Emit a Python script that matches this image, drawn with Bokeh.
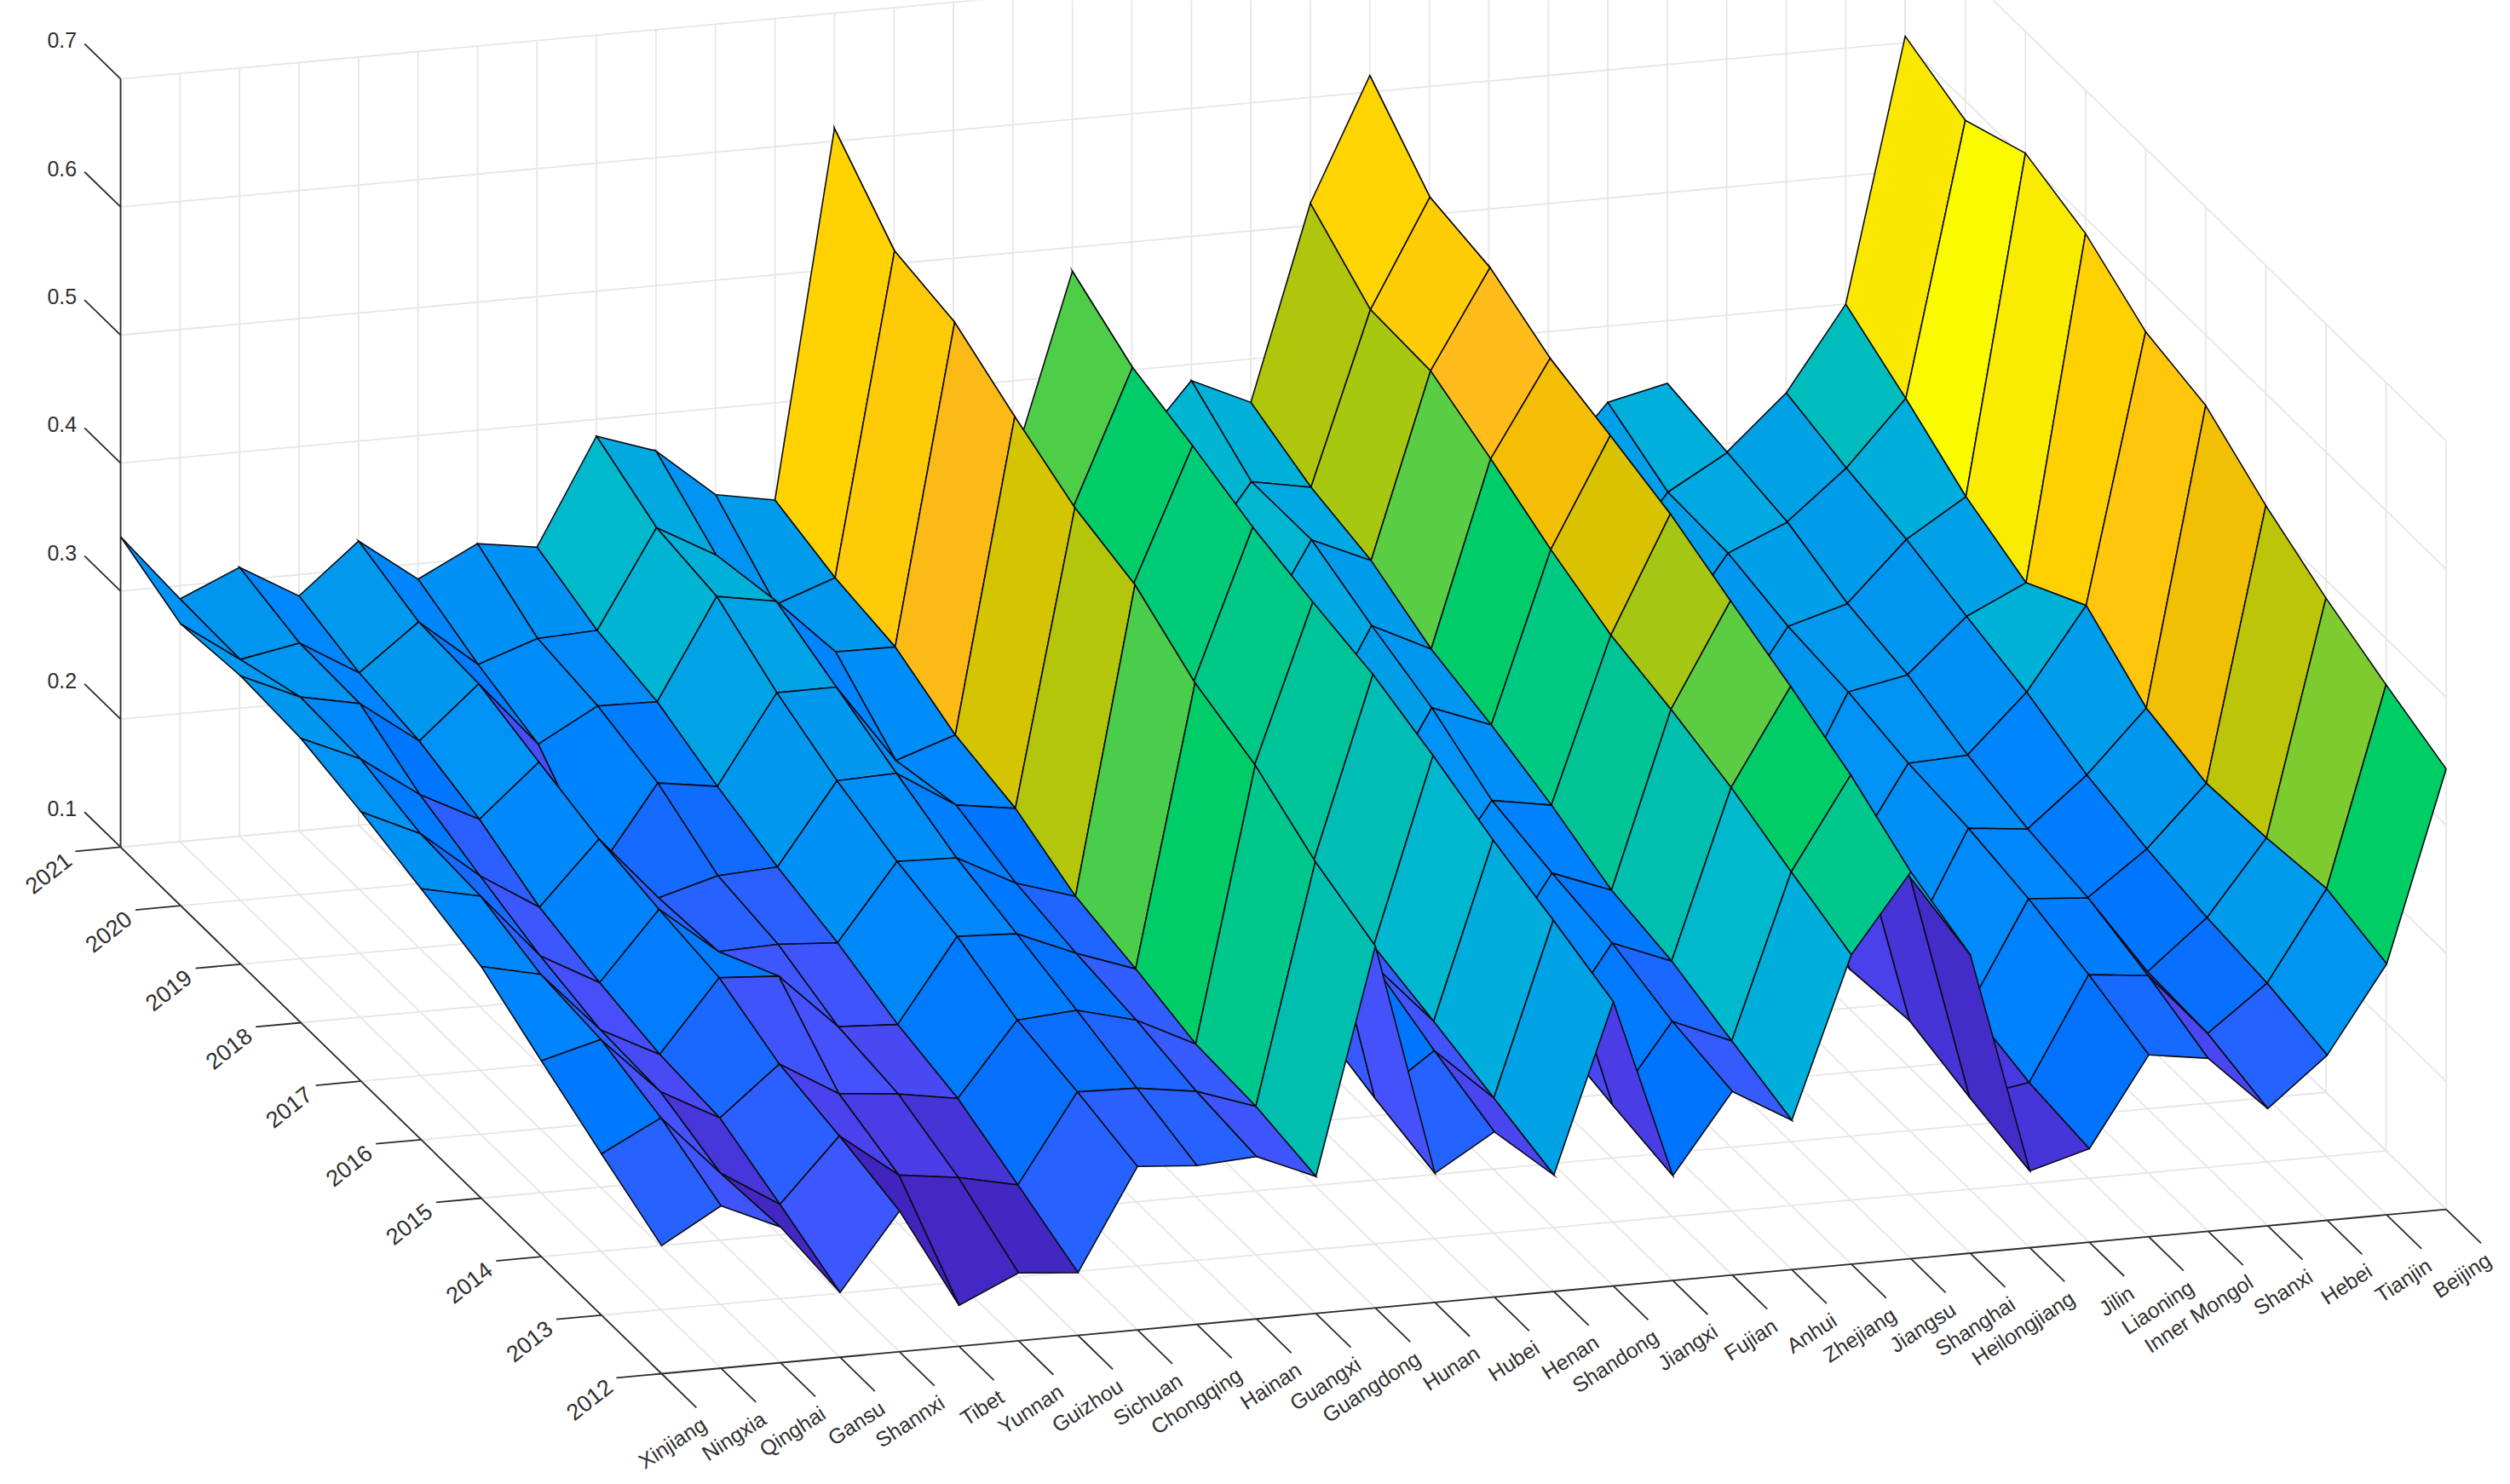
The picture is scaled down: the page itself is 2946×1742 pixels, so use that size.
from bokeh.plotting import figure
from bokeh.models import Range1d, ColumnDataSource
from bokeh.core.properties import value
from bokeh.embed import file_html
from bokeh.resources import INLINE
import numpy as np

provinces = ["Xinjiang","Ningxia","Qinghai","Gansu","Shannxi","Tibet","Yunnan","Guizhou","Sichuan","Chongqing",
             "Hainan","Guangxi","Guangdong","Hunan","Hubei","Henan","Shandong","Jiangxi","Fujian","Anhui",
             "Zhejiang","Jiangsu","Shanghai","Heilongjiang","Jilin","Liaoning","Inner Mongol","Shanxi","Hebei","Tianjin","Beijing"]
years = [2012,2013,2014,2015,2016,2017,2018,2019,2020,2021]
z_ticks = [0.1,0.2,0.3,0.4,0.5,0.6,0.7]

Xinjiang = [.200,.226,.253,.281,.296,.3104,.322,.325,.32,.3425]
Ningxia = [.2268,.2498,.2653,.2705,.2859,.289,.3018,.3044,.288,.2896]
Qinghai = [.206,.2024,.2203,.223,.235,.2518,.2695,.295,.2965,.310]
Gansu = [.1506,.1737,.1955,.1994,.2098,.223,.246,.2614,.269,.2834]
Shannxi = [.21,.2229,.2333,.255,.2628,.272,.2864,.3018,.3045,.322]
Tibet = [.132,.188,.206,.252,.2255,.2218,.198,.2504,.267,.288]
Yunnan = [.153,.1818,.2014,.2083,.2269,.2348,.2615,.276,.283,.3114]
Guizhou = [.149,.1718,.1936,.2057,.2238,.2373,.2546,.275,.285,.3044]
Sichuan = [.2276,.2402,.2505,.2702,.2831,.3004,.3235,.353,.361,.3868]
Chongqing = [.224,.2388,.2539,.268,.2816,.302,.3236,.345,.3354,.371]
Hainan = [.2268,.232,.2419,.2485,.2575,.273,.262,.3011,.2924,.3326]
Guangxi = [.207,.216,.219,.232,.243,.266,.2776,.3007,.309,.324]
Guangdong = [.3825,.4028,.4325,.451,.482,.4965,.522,.55,.56,.61]
Hunan = [.201,.214,.23,.24,.25,.265,.28,.295,.31,.33]
Hubei = [.229,.2467,.2675,.28,.29,.30,.315,.33,.345,.365]
Henan = [.191,.2054,.2196,.2326,.253,.28,.301,.332,.3466,.3347]
Shandong = [.322,.340,.3568,.3772,.3948,.4057,.4185,.4364,.4519,.4813]
Jiangxi = [.182,.1914,.2025,.2078,.223,.2368,.2508,.2776,.293,.3344]
Fujian = [.2434,.2524,.2679,.2769,.2879,.3146,.3331,.3544,.3541,.3874]
Anhui = [.2166,.2329,.2496,.2592,.28,.2969,.3105,.3339,.3455,.3661]
Zhejiang = [.3416,.3606,.3809,.3962,.4085,.4296,.4548,.4778,.4799,.5173]
Jiangsu = [.402,.432,.4555,.4767,.4988,.5144,.529,.5542,.5635,.6128]
Shanghai = [.333,.3478,.3585,.36,.37,.38,.39,.41,.43,.45]
Heilongjiang = [.16,.1717,.186,.1808,.19,.20,.21,.22,.235,.25]
Jilin = [.173,.179,.192,.195,.215,.209,.2366,.252,.2576,.289]
Liaoning = [.242,.259,.2726,.282,.287,.297,.3025,.314,.316,.3405]
InnerMongol = [.235,.254,.269,.277,.289,.306,.316,.334,.3426,.351]
Shanxi = [.1915,.2045,.207,.219,.227,.239,.256,.266,.284,.293]
Hebei = [.229,.2395,.245,.253,.265,.284,.2975,.312,.322,.335]
Tianjin = [.296,.309,.303,.300,.313,.3475,.3195,.341,.372,.40]
Beijing = [.444,.464,.486,.5126,.545,.557,.588,.605,.585,.605]

Z = np.array([Xinjiang,Ningxia,Qinghai,Gansu,Shannxi,Tibet,Yunnan,Guizhou,Sichuan,Chongqing,Hainan,Guangxi,Guangdong,
              Hunan,Hubei,Henan,Shandong,Jiangxi,Fujian,Anhui,Zhejiang,Jiangsu,Shanghai,Heilongjiang,Jilin,Liaoning,
              InnerMongol,Shanxi,Hebei,Tianjin,Beijing])
NI, NJ = Z.shape

# orthographic camera of the 3-D axes box
ORIGIN = (776.0, 1612.0); EX = (69.82, -6.43); EY = (-70.55, -68.67); ZK = 1503.0; Z0 = 0.1
def proj(i, j, z):
    return (ORIGIN[0] + EX[0]*i + EY[0]*j, 1742 - (ORIGIN[1] + EX[1]*i + EY[1]*j - (z - Z0)*ZK))

cm_z = [.13,.155,.172,.186,.20,.215,.23,.243,.26,.285,.31,.335,.36,.385,.405,.43,.444,.45,.46,.465,.48,.50,.515,.525,.545,.56,.585,.60]
cm_r = [65,67,70,75,70,55,35,0,0,0,0,0,0,0,0,0,0,70,110,130,175,220,245,255,255,255,250,250]
cm_g = [35,40,52,65,80,90,100,115,130,145,155,170,185,192,200,205,205,205,205,202,198,195,190,185,198,210,232,250]
cm_b = [190,195,215,235,250,255,255,255,255,245,235,225,205,170,135,105,100,75,60,45,12,0,5,30,12,0,0,0]
def cmap(v):
    return "#%02x%02x%02x" % tuple(int(round(np.interp(v, cm_z, c))) for c in (cm_r, cm_g, cm_b))

p = figure(width=2930, height=1726, x_range=Range1d(0, 2930), y_range=Range1d(16, 1742),
           toolbar_location=None, output_backend="svg", min_border=0, outline_line_color=None,
           x_axis_type=None, y_axis_type=None, background_fill_color="white", border_fill_color="white")
p.grid.visible = False

# wall and floor grid
gx, gy = [], []
def seg(a, b):
    gx.append([a[0], b[0]]); gy.append([a[1], b[1]])
zlo, zhi = z_ticks[0], z_ticks[-1]
for i in range(NI):
    seg(proj(i,0,zlo), proj(i,NJ-1,zlo)); seg(proj(i,NJ-1,zlo), proj(i,NJ-1,zhi))
for j in range(NJ):
    seg(proj(0,j,zlo), proj(NI-1,j,zlo)); seg(proj(NI-1,j,zlo), proj(NI-1,j,zhi))
for v in z_ticks:
    seg(proj(0,NJ-1,v), proj(NI-1,NJ-1,v)); seg(proj(NI-1,NJ-1,v), proj(NI-1,0,v))
p.multi_line(gx, gy, line_color="#e6e6e6", line_width=1.8)

# axes lines and ticks
ax, ay = [], []
def aseg(a, b):
    ax.append([a[0], b[0]]); ay.append([a[1], b[1]])
aseg(proj(0,0,zlo), proj(NI-1,0,zlo))
aseg(proj(0,0,zlo), proj(0,NJ-1,zlo))
aseg(proj(0,NJ-1,zlo), proj(0,NJ-1,zhi))
for i in range(NI):
    aseg(proj(i,0,zlo), proj(i,-0.58,zlo))
for j in range(NJ):
    aseg(proj(0,j,zlo), proj(-0.76,j,zlo))
for v in z_ticks:
    aseg(proj(0,NJ-1,v), proj(0,NJ-1+0.6,v))
p.multi_line(xs=ax, ys=ay, line_color="#2c2c2c", line_width=1.8)

# surface: flat faces painted from the far corner to the near one, each coloured by its first vertex
fx, fy, fc = [], [], []
for j in range(NJ-2, -1, -1):
    for i in range(NI-2, -1, -1):
        cs = [proj(i,j,Z[i,j]), proj(i+1,j,Z[i+1,j]), proj(i+1,j+1,Z[i+1,j+1]), proj(i,j+1,Z[i,j+1])]
        fx.append([c[0] for c in cs]); fy.append([c[1] for c in cs]); fc.append(cmap(Z[i+1,j]))
p.patches(xs="x", ys="y", fill_color="c", line_color="#0a0a14", line_width=1.6, line_join="miter",
          source=ColumnDataSource(dict(x=fx, y=fy, c=fc)))

# tick labels
FONT = value("Liberation Sans")
tx = [proj(i,-0.58,zlo)[0] + 9 for i in range(NI)]
ty = [proj(i,-0.58,zlo)[1] - 17 for i in range(NI)]
p.text(tx, ty, text=provinces, angle=np.radians(33), text_align="right", text_baseline="middle",
       text_font=FONT, text_font_size="25px", text_color="#303030")
tx = [proj(-0.76,j,zlo)[0] - 8 for j in range(NJ)]
ty = [proj(-0.76,j,zlo)[1] - 7 for j in range(NJ)]
p.text(tx, ty, text=[str(y) for y in years], angle=np.radians(38), text_align="right", text_baseline="middle",
       text_font=FONT, text_font_size="27px", text_color="#303030")
tx = [proj(0,NJ-1+0.6,v)[0] - 9 for v in z_ticks]
ty = [proj(0,NJ-1+0.6,v)[1] + 4 for v in z_ticks]
p.text(tx, ty, text=["%.1f" % v for v in z_ticks], text_align="right", text_baseline="middle",
       text_font=FONT, text_font_size="25px", text_color="#303030")

open("out.html", "w").write(file_html(p, INLINE))
